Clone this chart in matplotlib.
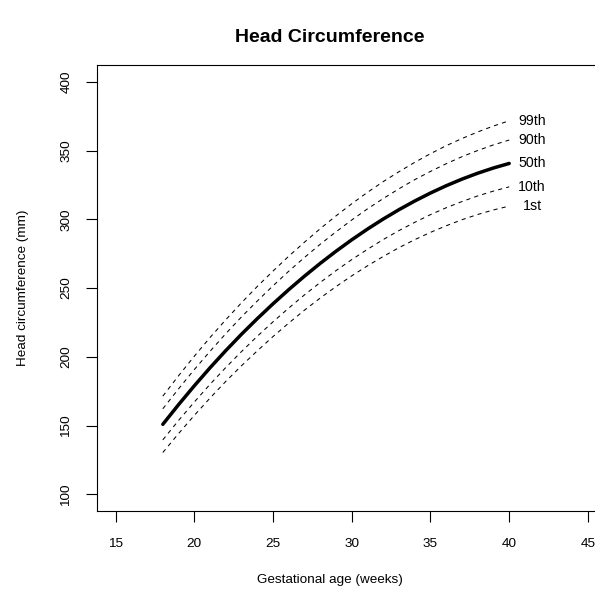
import matplotlib
matplotlib.use("Agg")
import matplotlib.pyplot as plt

plt.rcParams["font.family"] = ["Liberation Sans", "DejaVu Sans"]

# Gestational age (weeks) and head circumference centiles (mm)
weeks = [18, 19, 20, 21, 22, 23, 24, 25, 26, 27, 28, 29,
         30, 31, 32, 33, 34, 35, 36, 37, 38, 39, 40]
p50 = [151.0, 165.3, 179.0, 192.1, 204.6, 216.5, 227.8, 238.6, 248.9, 258.7, 268.0, 276.8,
       285.1, 292.9, 300.2, 307.0, 313.3, 319.1, 324.4, 329.2, 333.5, 337.3, 340.6]
p99 = [171.5, 186.3, 200.5, 214.1, 227.0, 239.4, 251.2, 262.4, 273.2, 283.4, 293.2, 302.5,
       311.3, 319.6, 327.4, 334.6, 341.4, 347.7, 353.5, 358.7, 363.5, 367.8, 371.6]
p90 = [162.3, 176.8, 190.8, 204.1, 216.9, 229.1, 240.6, 251.7, 262.3, 272.3, 281.9, 290.9,
       299.5, 307.6, 315.1, 322.2, 328.8, 334.8, 340.4, 345.5, 350.0, 354.1, 357.6]
p10 = [139.7, 153.8, 167.2, 180.1, 192.3, 203.9, 215.0, 225.5, 235.5, 245.1, 254.1, 262.7,
       270.7, 278.2, 285.3, 291.8, 297.8, 303.4, 308.4, 312.9, 317.0, 320.5, 323.6]
p1 = [130.5, 144.3, 157.5, 170.1, 182.2, 193.6, 204.4, 214.8, 224.6, 234.0, 242.8, 251.1,
      258.9, 266.2, 273.0, 279.4, 285.2, 290.5, 295.3, 299.7, 303.5, 306.8, 309.6]

centile_labels = ["99th", "90th", "50th", "10th", "1st"]
xticks = [15, 20, 25, 30, 35, 40, 45]
yticks = [100, 150, 200, 250, 300, 350, 400]

W, H = 595, 594
fig = plt.figure(figsize=(W / 100, H / 100), dpi=100)
fig.patch.set_facecolor("white")

# plot region runs past the right edge of the canvas
left, right, top, bottom = 96.7, 606.8, 65.2, 511.0
ax = fig.add_axes([left / W, 1 - bottom / H, (right - left) / W, (bottom - top) / H])
ax.set_xlim(13.8, 46.2)
ax.set_ylim(88, 412)

dash = (0, (4, 4))
for series in (p99, p90, p10, p1):
    ax.plot(weeks, series, color="black", lw=0.75, linestyle=dash)
ax.plot(weeks, p50, color="black", lw=2.5, solid_capstyle="round",
        solid_joinstyle="round")

for lab, series in zip(centile_labels, (p99, p90, p50, p10, p1)):
    ax.text(41.45, series[-1], lab, ha="center", va="center", fontsize=10.2)

ax.set_xticks(xticks)
ax.set_yticks(yticks)
ax.set_xticklabels([str(t) for t in xticks])
ax.set_yticklabels([str(t) for t in yticks], rotation=90, va="center")
ax.tick_params(axis="x", direction="out", length=7.6, width=0.8,
               labelsize=9.7, pad=11.5)
ax.tick_params(axis="y", direction="out", length=7.6, width=0.8,
               labelsize=9.7, pad=10)
for s in ax.spines.values():
    s.set_linewidth(0.8)
ax.spines["right"].set_visible(False)

fig.text(330 / W, 1 - 37 / H, "Head Circumference", ha="center", va="center",
         fontsize=14, fontweight="bold")
fig.text(330 / W, 1 - 580 / H, "Gestational age (weeks)", ha="center",
         va="center", fontsize=9.7)
fig.text(23 / W, 1 - 288 / H, "Head circumference (mm)", ha="center",
         va="center", rotation=90, fontsize=9.7)

fig.savefig("out.png", dpi=100)
